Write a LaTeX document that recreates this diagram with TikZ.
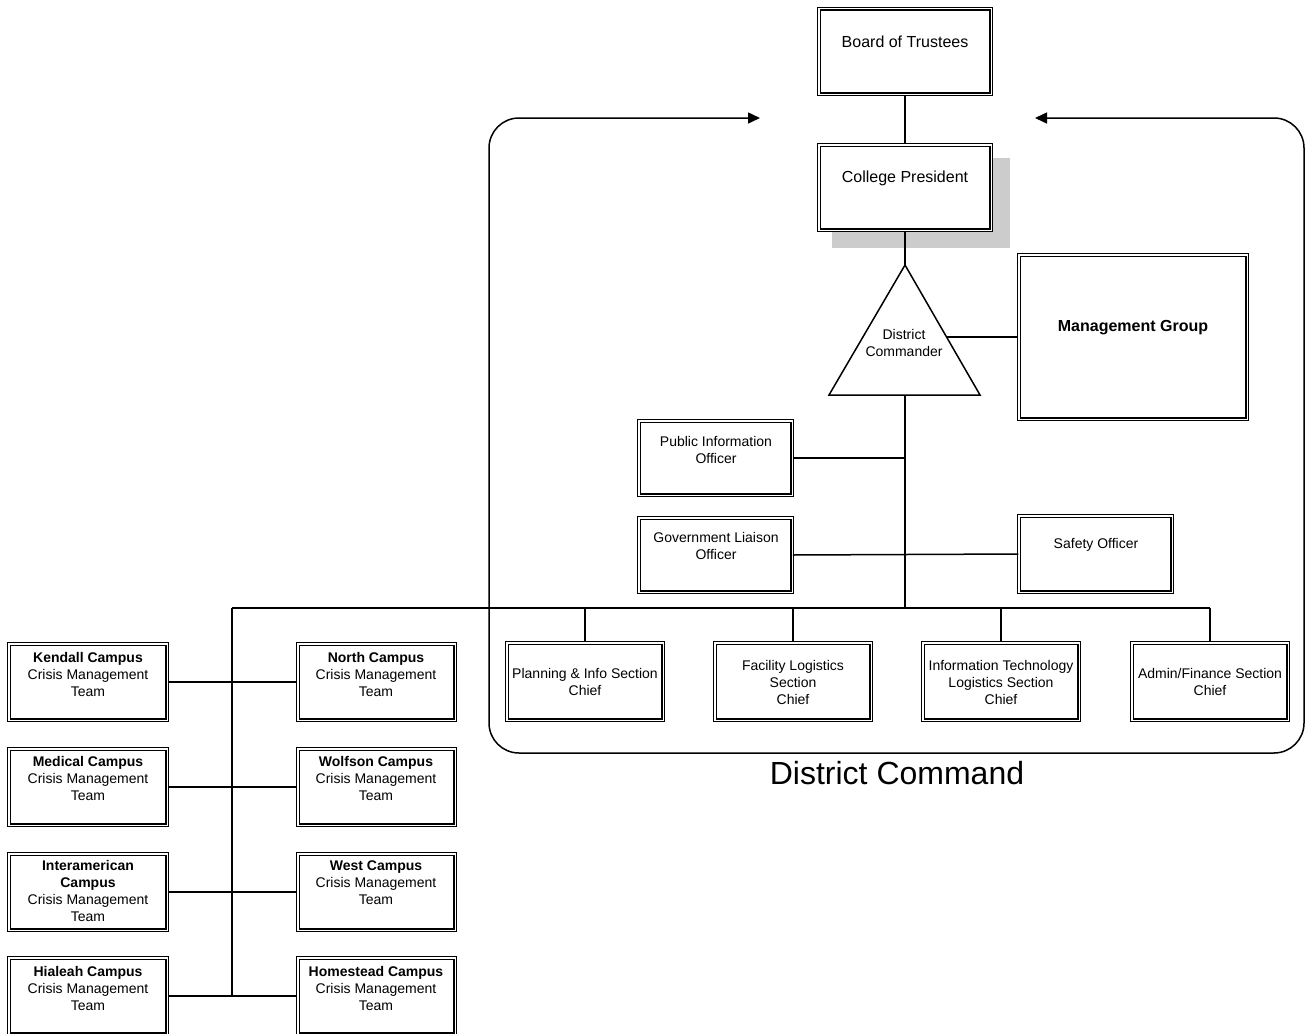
\documentclass[tikz,border=0pt]{standalone}
\usepackage{fontspec}
\setmainfont{Liberation Sans}
\usetikzlibrary{arrows.meta,calc}
\tikzset{
  box/.style={draw, double=white, line width=1.4pt, double distance=1.1pt, fill=white, inner sep=0pt},
  txt/.style={font=\fontsize{14}{17}\selectfont, align=center, inner sep=0pt},
  bigtxt/.style={font=\fontsize{16}{19}\selectfont, align=center, inner sep=0pt},
  conn/.style={line width=1.5pt},
  frame/.style={line width=1.5pt, rounded corners=30pt, -{Triangle[length=12pt,width=11pt]}}
}
\newcommand\BX[5]{\node[box, minimum width={#4-#2-3.9}, minimum height={#5-#3-3.9}] (#1) at ({(#2+#4)/2},{(#3+#5)/2}) {};}
\begin{document}
\begin{tikzpicture}[x=1pt,y=-1pt]
\useasboundingbox (0,0) rectangle (1305,1033);
% frame
\coordinate (fb) at (897,753);
\coordinate (fl) at (489,753);
\coordinate (flt) at (489,118);
\coordinate (fla) at (760,118);
\coordinate (fr) at (1304,753);
\coordinate (frt) at (1304,118);
\coordinate (fra) at (1035,118);
\draw[frame] (fb) -- (fl) -- (flt) -- (fla);
\draw[frame] (fb) -- (fr) -- (frt) -- (fra);
\node[font=\fontsize{32}{38}\selectfont, inner sep=0pt] (dclabel) at (897,773) {District Command};
% shadow
\fill[black!20] (832,158) rectangle (1010,248);
% boxes
\BX{bt}{817}{7}{993}{96}
\BX{cp}{817}{143}{993}{232}
\BX{mg}{1017}{253}{1249}{421}
\BX{pio}{637}{419}{794}{497}
\BX{gov}{637}{516}{794}{594}
\BX{saf}{1017}{514}{1174}{594}
\BX{sa}{505}{641}{665}{722}
\BX{sb}{713}{641}{873}{722}
\BX{sc}{921}{641}{1081}{722}
\BX{sd}{1130}{641}{1290}{722}
\BX{ken}{7}{642}{169}{722}
\BX{nor}{296}{642}{457}{722}
\BX{med}{7}{747}{169}{827}
\BX{wol}{296}{747}{457}{827}
\BX{int}{7}{852}{169}{932}
\BX{wes}{296}{852}{457}{932}
\BX{hia}{7}{956}{169}{1036}
\BX{hom}{296}{956}{457}{1036}
% triangle
\coordinate (apex) at (905,265);
\coordinate (tbl) at (829,395);
\coordinate (tbr) at (980,395);
\coordinate (tbase) at (905,395);
\coordinate (tr) at (946.5,337);
\draw[line width=1.5pt, line join=miter] (apex) -- (tbr) -- (tbl) -- cycle;
% texts
\node[bigtxt] (tbt) at (905,42) {Board of Trustees};
\node[bigtxt] (tcp) at (905,178) {College President};
\node[txt] (tdc) at (904,343) {District\\Commander};
\node[bigtxt, font=\fontsize{16}{19}\selectfont\bfseries] (tmg) at (1133,328) {Management Group};
\node[txt] (tpio) at (716,450) {Public Information\\Officer};
\node[txt] (tgov) at (716,546) {Government Liaison\\Officer};
\node[txt] (tsaf) at (1096,545) {Safety Officer};
\node[txt] (tsa) at (585,682) {Planning \& Info Section\\Chief};
\node[txt] (tsb) at (793,682) {Facility Logistics\\Section\\Chief};
\node[txt] (tsc) at (1001,682) {Information Technology\\Logistics Section\\Chief};
\node[txt] (tsd) at (1210,682) {Admin/Finance Section\\Chief};
\node[txt] (tken) at (88,674) {\textbf{Kendall Campus}\\Crisis Management\\Team};
\node[txt] (tnor) at (376,674) {\textbf{North Campus}\\Crisis Management\\Team};
\node[txt] (tmed) at (88,778) {\textbf{Medical Campus}\\Crisis Management\\Team};
\node[txt] (twol) at (376,778) {\textbf{Wolfson Campus}\\Crisis Management\\Team};
\node[txt] (tint) at (88,891) {\textbf{Interamerican}\\\textbf{Campus}\\Crisis Management\\Team};
\node[txt] (twes) at (376,883) {\textbf{West Campus}\\Crisis Management\\Team};
\node[txt] (thia) at (88,988) {\textbf{Hialeah Campus}\\Crisis Management\\Team};
\node[txt] (thom) at (376,988) {\textbf{Homestead Campus}\\Crisis Management\\Team};
% connectors
\coordinate (busL) at (232,608);
\coordinate (busR) at (1210,608);
\coordinate (busM) at (905,608);
\coordinate (campB) at (232,996);
\draw[conn] (bt.south) -- (cp.north);
\draw[conn] (cp.south) -- (apex);
\draw[conn] (tr) -- (mg.west);
\draw[conn] (tbase) -- (busM);
\draw[conn] (pio.east) -- (pio.east -| busM);
\draw[conn] (gov.east) -- (saf.west);
\draw[conn] (busL) -- (busR);
\foreach \s in {sa,sb,sc,sd}{\draw[conn] (\s.north |- busL) -- (\s.north);}
\draw[conn] (busL) -- (campB);
\draw[conn] (ken.east) -- (nor.west);
\draw[conn] (med.east) -- (wol.west);
\draw[conn] (int.east) -- (wes.west);
\draw[conn] (hia.east) -- (hom.west);
\end{tikzpicture}
\end{document}
